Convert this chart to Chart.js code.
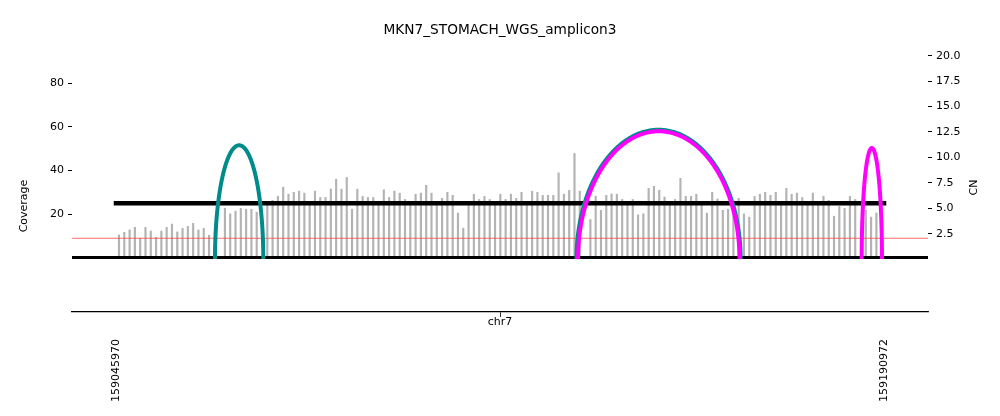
<!DOCTYPE html>
<html>
<head>
<meta charset="utf-8">
<script src="https://cdn.jsdelivr.net/npm/chart.js@4.4.1/dist/chart.umd.min.js"></script>
<style>
  html, body { margin: 0; padding: 0; background: #fff; }
  #wrap { width: 1000px; height: 416px; }
</style>
</head>
<body>
<div id="wrap"><canvas id="c" width="1000" height="416"></canvas></div>
<script>
// ---------- data ----------
const chartTitle = 'MKN7_STOMACH_WGS_amplicon3';
const chromName = 'chr7';
const xTickValues = [159045970, 159190972];
const xRange = [159037663, 159199279];

// coverage bins (1 kb), first bin centre and step
const binStart = 159046536;
const binSize = 1000;
const coverage = [
  10.4, 11.6, 12.7, 13.9, 8.9, 13.9, 12.2, 9.3, 12.2, 13.9,
  15.4, 11.8, 13.4, 14.3, 15.7, 12.7, 13.4, 10.3, null, null,
  22.7, 20.1, 21.3, 22.6, 22.2, 22.2, 20.8, null, 24.0, 26.3,
  28.2, 32.3, 29.1, 30.0, 30.5, 29.6, 25.1, 30.5, 27.6, 27.6,
  31.5, 36.0, 31.4, 36.8, 22.2, 31.4, 28.1, 27.6, 27.6, 25.1,
  31.1, 27.6, 30.5, 29.6, 26.7, 25.1, 29.1, 29.6, 33.2, 29.6,
  25.1, 27.2, 30.0, 28.6, 20.4, 13.5, 25.1, 29.1, 26.7, 28.1,
  26.7, 25.1, 29.1, 26.7, 29.1, 27.2, 30.0, 25.1, 30.5, 30.0,
  28.6, 28.6, 28.6, 38.9, 29.1, 30.9, 47.8, 30.5, null, 17.5,
  28.2, 21.7, 28.6, 29.2, 29.1, 26.7, 25.1, 26.7, 19.6, 20.1,
  31.8, 32.7, 30.9, 27.8, 25.1, 26.7, 36.4, 28.1, 28.1, 29.1,
  25.1, 20.4, 30.0, 26.9, 21.7, 22.2, 21.6, 27.2, 20.1, 18.6,
  28.1, 29.1, 30.0, 28.6, 30.0, 25.1, 31.8, 29.1, 29.6, 27.6,
  25.1, 29.6, 25.1, 28.2, 26.3, 19.0, 23.5, 22.6, 28.1, 26.7,
  null, 21.7, 18.6, 20.5
];

// copy-number segments (CN axis)
const segStart = [159045970];
const segEnd = [159190972];
const segCN = [5.49];

// reference CN line
const refCN = 2.05;

// breakpoint arcs (CN axis): start, end, peak height, colour
const arcStart = [159064660, 159132910, 159133200, 159186760];
const arcEnd   = [159073780, 159163910, 159163690, 159190590];
const arcPeak  = [11.19, 12.72, 12.57, 10.92];
const arcColor = ['#008b8b', '#008b8b', '#ff00ff', '#ff00ff'];

const covTicks = [20, 40, 60, 80];
const cnTicks = [2.5, 5, 7.5, 10, 12.5, 15, 17.5, 20];

// ---------- build ----------
Chart.defaults.font.family = "'DejaVu Sans', sans-serif";
Chart.defaults.font.size = 11;
Chart.defaults.color = '#000';

const barData = [];
coverage.forEach((v, i) => { if (v !== null) barData.push({x: binStart + i * binSize, y: v}); });

function halfEllipse(s, e, h) {
  const pts = [];
  const n = 120;
  const c = (s + e) / 2, r = (e - s) / 2;
  for (let k = 0; k <= n; k++) {
    const t = Math.PI - Math.PI * k / n;
    pts.push({x: c + r * Math.cos(t), y: h * Math.sin(t)});
  }
  return pts;
}

const datasets = [];
datasets.push({
  type: 'bar', label: 'coverage', data: barData, xAxisID: 'x', yAxisID: 'yCov',
  backgroundColor: '#b3b3b3', borderWidth: 0, barThickness: 1.5, order: 10
});
datasets.push({
  type: 'line', label: 'base', data: [{x: xRange[0], y: 0}, {x: xRange[1], y: 0}],
  xAxisID: 'x', yAxisID: 'yCov', borderColor: '#000', borderWidth: 3,
  pointRadius: 0, fill: false, order: 9
});
datasets.push({
  type: 'line', label: 'ref', data: [{x: xRange[0], y: refCN}, {x: xRange[1], y: refCN}],
  xAxisID: 'x', yAxisID: 'yCN', borderColor: 'rgba(255,60,60,0.75)', borderWidth: 1,
  pointRadius: 0, fill: false, order: 8
});
segStart.forEach((s, i) => {
  datasets.push({
    type: 'line', label: 'seg' + i, data: [{x: s, y: segCN[i]}, {x: segEnd[i], y: segCN[i]}],
    xAxisID: 'x', yAxisID: 'yCN', borderColor: '#000', borderWidth: 4.5,
    borderCapStyle: 'square', pointRadius: 0, fill: false, order: 7
  });
});
arcStart.forEach((s, i) => {
  datasets.push({
    type: 'line', label: 'arc' + i, data: halfEllipse(s, arcEnd[i], arcPeak[i]),
    xAxisID: 'x', yAxisID: 'yCN', borderColor: arcColor[i], borderWidth: 4,
    borderJoinStyle: 'round', borderCapStyle: 'butt',
    pointRadius: 0, pointHoverRadius: 0, fill: false, tension: 0.0001, order: 5 - i
  });
});

const axisTitles = {
  id: 'axisTitles',
  afterDraw(chart) {
    const ctx = chart.ctx, a = chart.chartArea;
    ctx.save();
    ctx.fillStyle = '#000';
    ctx.font = "11px 'DejaVu Sans'";
    ctx.textAlign = 'center';
    ctx.textBaseline = 'middle';
    ctx.translate(a.left - 48, 206);
    ctx.rotate(-Math.PI / 2);
    ctx.fillText('Coverage', 0, 0);
    ctx.restore();
    ctx.save();
    ctx.fillStyle = '#000';
    ctx.font = "11px 'DejaVu Sans'";
    ctx.textAlign = 'center';
    ctx.textBaseline = 'middle';
    ctx.translate(a.right + 46, 187.5);
    ctx.rotate(-Math.PI / 2);
    ctx.fillText('CN', 0, 0);
    ctx.restore();
  }
};

new Chart(document.getElementById('c'), {
  type: 'line',
  data: { datasets },
  plugins: [axisTitles],
  options: {
    responsive: false,
    animation: false,
    devicePixelRatio: 1,
    layout: { padding: { left: 0, right: 0, top: 0, bottom: 13 } },
    plugins: {
      legend: { display: false },
      tooltip: { enabled: false },
      title: {
        display: true, text: chartTitle, color: '#000',
        font: { size: 13.7, weight: 'normal', lineHeight: '16px' },
        padding: { top: 22, bottom: 12 }
      }
    },
    scales: {
      x: {
        type: 'linear', position: 'bottom', weight: 0, offset: false,
        min: xRange[0], max: xRange[1],
        afterBuildTicks: s => { s.ticks = xTickValues.map(v => ({value: v})); },
        afterFit: s => { s.height = 22; },
        ticks: { display: false },
        grid: { drawOnChartArea: false, drawTicks: true, tickLength: 5, color: '#000', lineWidth: 0.8 },
        border: { display: true, color: '#000', width: 1.3 },
        title: { display: true, text: chromName, color: '#000', font: { size: 11 }, padding: { top: 0, bottom: 5 } }
      },
      x2: {
        type: 'linear', position: 'bottom', weight: 1, offset: false,
        min: xRange[0], max: xRange[1],
        afterBuildTicks: s => { s.ticks = xTickValues.map(v => ({value: v})); },
        afterFit: s => { s.height = 69; },
        ticks: { display: true, minRotation: 90, maxRotation: 90, padding: 5, autoSkip: false,
                 callback: v => String(v), color: '#000' },
        grid: { display: false, drawTicks: false },
        border: { display: false }
      },
      yCov: {
        type: 'linear', position: 'left', min: -24.98, max: 95.31,
        afterBuildTicks: s => { s.ticks = covTicks.map(v => ({value: v})); },
        afterFit: s => { s.width = 72; },
        ticks: { padding: 4, color: '#000' },
        grid: { drawOnChartArea: false, drawTicks: true, tickLength: 4, color: '#000' },
        border: { display: false }
      },
      yCN: {
        type: 'linear', position: 'right', min: -5.20, max: 20.56,
        afterBuildTicks: s => { s.ticks = cnTicks.map(v => ({value: v})); },
        afterFit: s => { s.width = 72; },
        ticks: { padding: 4, color: '#000', callback: v => Number(v).toFixed(1) },
        grid: { drawOnChartArea: false, drawTicks: true, tickLength: 4, color: '#000' },
        border: { display: false }
      }
    }
  }
});
</script>
</body>
</html>
